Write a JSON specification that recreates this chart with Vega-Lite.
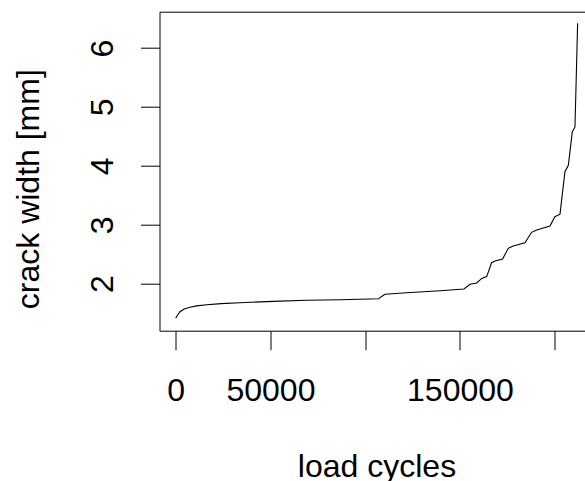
{
  "$schema": "https://vega.github.io/schema/vega-lite/v6.json",
  "autosize": "none",
  "padding": {"left": 159.5, "top": 11.7, "right": 0, "bottom": 150.3},
  "width": 426,
  "height": 319,
  "background": "white",
  "config": {
    "font": "Liberation Sans",
    "view": {"stroke": "#000", "strokeWidth": 1}
  },
  "data": {
    "values": [
      {"cycles": 0, "width": 1.413},
      {"cycles": 1000, "width": 1.47},
      {"cycles": 2270, "width": 1.525},
      {"cycles": 4500, "width": 1.57},
      {"cycles": 7550, "width": 1.60},
      {"cycles": 11000, "width": 1.623},
      {"cycles": 16360, "width": 1.644},
      {"cycles": 24000, "width": 1.662},
      {"cycles": 33930, "width": 1.678},
      {"cycles": 51520, "width": 1.70},
      {"cycles": 69120, "width": 1.718},
      {"cycles": 86700, "width": 1.728},
      {"cycles": 107120, "width": 1.745},
      {"cycles": 108500, "width": 1.78},
      {"cycles": 110450, "width": 1.82},
      {"cycles": 121900, "width": 1.847},
      {"cycles": 139500, "width": 1.881},
      {"cycles": 152100, "width": 1.91},
      {"cycles": 155300, "width": 1.99},
      {"cycles": 158800, "width": 2.012},
      {"cycles": 161500, "width": 2.09},
      {"cycles": 164100, "width": 2.12},
      {"cycles": 166700, "width": 2.356},
      {"cycles": 168500, "width": 2.385},
      {"cycles": 172500, "width": 2.42},
      {"cycles": 175500, "width": 2.60},
      {"cycles": 178100, "width": 2.64},
      {"cycles": 184300, "width": 2.696},
      {"cycles": 187800, "width": 2.872},
      {"cycles": 190500, "width": 2.91},
      {"cycles": 197500, "width": 2.98},
      {"cycles": 200100, "width": 3.137},
      {"cycles": 202800, "width": 3.18},
      {"cycles": 205400, "width": 3.90},
      {"cycles": 207200, "width": 4.01},
      {"cycles": 209300, "width": 4.58},
      {"cycles": 210700, "width": 4.66},
      {"cycles": 212100, "width": 6.42}
    ]
  },
  "mark": {"type": "line", "color": "#000", "strokeWidth": 1.1},
  "encoding": {
    "x": {
      "field": "cycles",
      "type": "quantitative",
      "scale": {"domain": [-8549, 216253], "nice": false, "zero": false},
      "axis": {
        "values": [0, 50000, 100000, 150000, 200000],
        "format": "d",
        "labelExpr": "datum.value == 100000 || datum.value == 200000 ? '' : datum.label",
        "grid": false,
        "domain": false,
        "tickColor": "#000",
        "tickSize": 19,
        "tickWidth": 1,
        "labelFont": "Liberation Sans",
        "labelFontSize": 32,
        "labelColor": "#000",
        "labelBaseline": "alphabetic",
        "labelPadding": 51,
        "labelFlush": false,
        "labelOverlap": false,
        "title": "load cycles",
        "titleFont": "Liberation Sans",
        "titleFontSize": 32,
        "titleFontWeight": "normal",
        "titleColor": "#000",
        "titleBaseline": "alphabetic",
        "titleAnchor": "middle",
        "titleX": 217,
        "titleY": 146
      }
    },
    "y": {
      "field": "width",
      "type": "quantitative",
      "scale": {"domain": [1.2024, 6.616], "nice": false, "zero": false},
      "axis": {
        "values": [2, 3, 4, 5, 6],
        "grid": false,
        "domain": false,
        "tickColor": "#000",
        "tickSize": 19,
        "tickWidth": 1,
        "labelFont": "Liberation Sans",
        "labelFontSize": 32,
        "labelColor": "#000",
        "labelAngle": 270,
        "labelAlign": "center",
        "labelBaseline": "alphabetic",
        "labelPadding": 28,
        "labelFlush": false,
        "labelOverlap": false,
        "title": "crack width [mm]",
        "titleFont": "Liberation Sans",
        "titleFontSize": 32,
        "titleFontWeight": "normal",
        "titleColor": "#000",
        "titleAngle": 270,
        "titleAlign": "center",
        "titleBaseline": "alphabetic",
        "titleX": -121,
        "titleY": 177
      }
    }
  }
}
